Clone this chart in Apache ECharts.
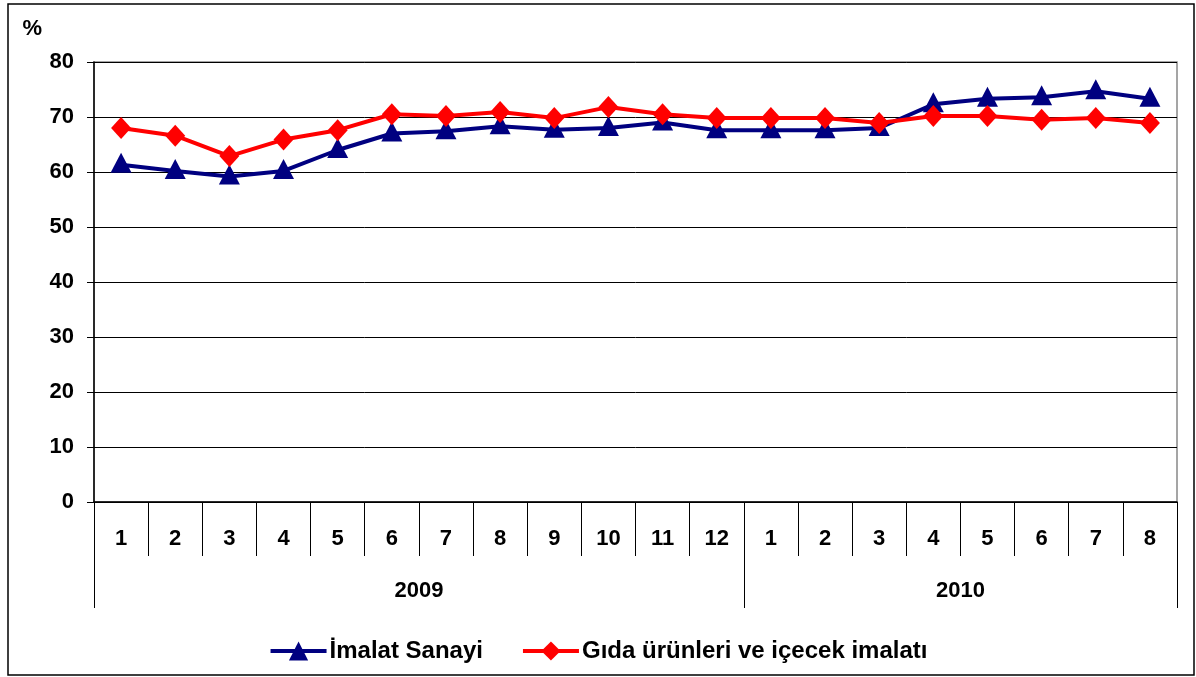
<!DOCTYPE html>
<html>
<head>
<meta charset="utf-8">
<script src="https://cdn.jsdelivr.net/npm/echarts@6/dist/echarts.min.js"></script>
<style>
html,body{margin:0;padding:0;background:#fff;}
#chart{width:1196px;height:677px;}
</style>
</head>
<body>
<div id="chart"></div>
<script>
var months = ['1','2','3','4','5','6','7','8','9','10','11','12','1','2','3','4','5','6','7','8'];
var years = ['2009','2010'];
var yearStarts = [0, 12];
var imalat = [61.3,60.2,59.2,60.2,64.0,67.0,67.4,68.3,67.7,68.0,69.0,67.6,67.6,67.6,68.0,72.3,73.3,73.6,74.7,73.3];
var gida = [68.0,66.6,62.9,65.9,67.6,70.5,70.2,70.9,69.8,71.8,70.5,69.8,69.8,69.8,68.9,70.2,70.2,69.5,69.8,68.9];
var seriesNames = ['İmalat Sanayi','Gıda ürünleri ve içecek imalatı'];
var yTicks = [0,10,20,30,40,50,60,70,80];

var FONT = 'Liberation Sans';
var chart = echarts.init(document.getElementById('chart'), null, {renderer:'canvas'});

var gridLeft = 94, gridRight = 1196 - 1177;
var band = (1177 - 94) / months.length;
function yearLabelIndex(i){
  for (var k = 0; k < yearStarts.length; k++) {
    var s = yearStarts[k];
    var e = k + 1 < yearStarts.length ? yearStarts[k+1] : months.length;
    var n = e - s;
    var mid = s + Math.floor((n - 1) / 2);
    if (i === mid) return years[k];
  }
  return null;
}

var option = {
  backgroundColor: '#fff',
  animation: false,
  textStyle: {fontFamily: FONT},
  graphic: [{
    type: 'rect',
    shape: {x: 8, y: 4, width: 1186, height: 671},
    style: {fill: 'none', stroke: '#000', lineWidth: 1.5},
    z: 0, silent: true
  }],
  grid: {left: gridLeft, right: gridRight, top: 62, bottom: 677 - 502,
    show: true, borderColor: '#888', borderWidth: 1.5, backgroundColor: 'transparent'},
  legend: {
    bottom: 9, left: 'center',
    itemWidth: 56, itemHeight: 24, itemGap: 38,
    lineStyle: {width: 4},
    textStyle: {fontFamily: FONT, fontWeight: 'bold', fontSize: 24, color: '#000', padding: [0,0,0,-2]},
    data: seriesNames
  },
  xAxis: [{
    type: 'category', data: months, boundaryGap: true, position: 'bottom',
    axisLine: {show: true, lineStyle: {color: '#000', width: 1.5}},
    axisTick: {show: true, length: 54, interval: 0, lineStyle: {color: '#000', width: 1}},
    axisLabel: {interval: 0, margin: 26, color: '#000', fontFamily: FONT, fontWeight: 'bold', fontSize: 22}
  }, {
    type: 'category', data: months, boundaryGap: true, position: 'bottom',
    axisLine: {show: false},
    axisTick: {show: true, length: 106, lineStyle: {color: '#000', width: 1},
      interval: function(i){ return yearStarts.indexOf(i) >= 0; }},
    axisLabel: {
      interval: 0, margin: 78, color: '#000', fontFamily: FONT, fontWeight: 'bold', fontSize: 22,
      formatter: function(v, i){ var y = yearLabelIndex(i); return y ? y : ''; },
      padding: [0, 0, 0, band]
    }
  }],
  yAxis: {
    type: 'value', min: 0, max: 80, interval: 10,
    name: '%', nameLocation: 'end', nameGap: 22,
    nameTextStyle: {fontFamily: FONT, fontWeight: 'bold', fontSize: 22, color: '#000', align: 'right', padding: [0, 52, 0, 0]},
    axisLine: {show: true, lineStyle: {color: '#000', width: 1.5}},
    axisTick: {show: true, length: 7, lineStyle: {color: '#000'}},
    axisLabel: {margin: 20, color: '#000', fontFamily: FONT, fontWeight: 'bold', fontSize: 22,
      formatter: function(v){ return yTicks.indexOf(v) >= 0 ? String(v) : ''; }},
    splitLine: {show: true, lineStyle: {color: '#000', width: 1}}
  },
  series: [{
    name: seriesNames[0], type: 'line', data: imalat,
    symbol: 'triangle', symbolSize: [21, 20], symbolOffset: [0, -2],
    lineStyle: {color: '#000080', width: 4},
    itemStyle: {color: '#000080'},
    z: 3
  }, {
    name: seriesNames[1], type: 'line', data: gida,
    symbol: 'diamond', symbolSize: [20, 22],
    lineStyle: {color: '#ff0000', width: 4},
    itemStyle: {color: '#ff0000'},
    z: 4
  }]
};
chart.setOption(option);
</script>
</body>
</html>
